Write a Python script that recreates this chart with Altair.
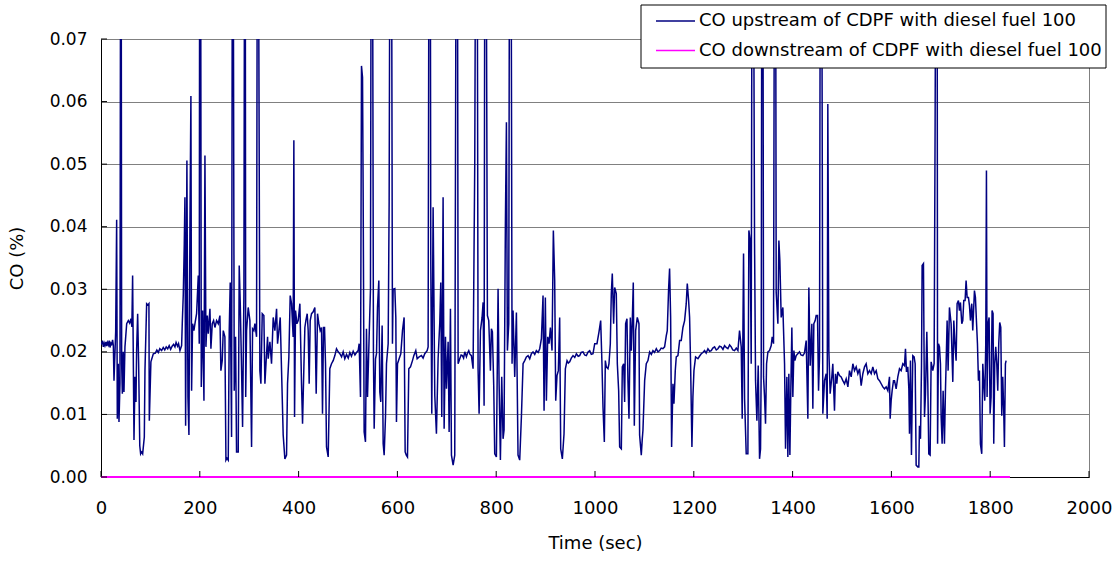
import altair as alt
import pandas as pd

# CO upstream of the CDPF, (time s, CO %) pairs, one list per stretch of the run
up_0_163 = [
    (0, 0.0212), (1.3, 0.0213), (3, 0.0218), (4.7, 0.0208), (6.5, 0.0214), (8, 0.0210),
    (10, 0.0216), (11.5, 0.0209), (13, 0.0215), (14.8, 0.0211), (16.5, 0.0218), (18.2, 0.0207),
    (20, 0.0214), (21.6, 0.0212), (23.5, 0.0219), (25, 0.0210), (26.3, 0.0154), (29.7, 0.0232),
    (31.7, 0.0411), (33, 0.0093), (35, 0.0181), (36.4, 0.0088), (38.4, 0.0150), (39.7, 0.095),
    (40.8, 0.095), (41.8, 0.0181), (43.2, 0.0133), (45, 0.0200), (46.5, 0.0136), (48.5, 0.0208),
    (52, 0.0245), (55.3, 0.0250), (58, 0.0246), (60.7, 0.0253), (62.5, 0.0240), (64, 0.0322),
    (66.8, 0.0059), (68.8, 0.0160), (70.8, 0.0120), (72.1, 0.0202), (74.2, 0.0261), (76.2, 0.0181),
    (78.5, 0.0050), (80.2, 0.0037), (82, 0.0040), (84.3, 0.0037), (87.7, 0.0064), (89, 0.0170),
    (92.4, 0.0277), (95, 0.0275), (97, 0.0277), (97.8, 0.0090), (101, 0.0184), (105.9, 0.0197),
    (110, 0.0198), (113, 0.0203), (116, 0.0199), (119, 0.0205), (122.7, 0.0202), (126, 0.0207),
    (129, 0.0203), (132, 0.0208), (135, 0.0205), (138, 0.0210), (141, 0.0204), (144, 0.0209),
    (147, 0.0212), (149.7, 0.0208), (152, 0.0215), (155, 0.0209), (157, 0.0213), (159.8, 0.0202),
    (163.2, 0.0210),
]
up_164_480 = [
    (164.5, 0.0245), (166.5, 0.0290), (168.6, 0.0373), (169.9, 0.0447), (171.3, 0.0082),
    (173.9, 0.0506), (176, 0.0128), (178, 0.0067), (180, 0.0394), (182, 0.0609), (183.4, 0.0138),
    (185.4, 0.0245), (188.1, 0.0234), (190.2, 0.0245), (193.5, 0.0261), (196.9, 0.0322),
    (198.9, 0.0213), (199.8, 0.095), (201.6, 0.095), (203, 0.0144), (205.7, 0.0266),
    (208.4, 0.0122), (210.4, 0.0514), (212.4, 0.0208), (215.1, 0.0258), (217.1, 0.0229),
    (220.5, 0.0269), (222.5, 0.0205), (225.2, 0.0245), (227.9, 0.0250), (230.6, 0.0239),
    (234, 0.0250), (237.4, 0.0245), (240.7, 0.0258), (242.7, 0.0170), (245.4, 0.0186),
    (247.5, 0.0234), (250.8, 0.0224), (252.9, 0.0027), (255, 0.0030), (257.6, 0.0027),
    (259.6, 0.0234), (261.6, 0.0311), (264.3, 0.0064), (266, 0.095), (267.5, 0.095),
    (269.7, 0.0138), (272.4, 0.0224), (274.4, 0.0040), (277.8, 0.0040), (279.8, 0.0338),
    (281.9, 0.0277), (284.6, 0.0170), (286.6, 0.0080), (289.3, 0.0293), (290.7, 0.095),
    (292, 0.095), (292.9, 0.0128), (294.7, 0.0234), (298, 0.0271), (301.4, 0.0250),
    (304.8, 0.0048), (306.8, 0.0237), (309.5, 0.0234), (311.5, 0.0245), (314.9, 0.0224),
    (316.5, 0.095), (318.5, 0.095), (321.6, 0.0170), (323.7, 0.0149), (326.4, 0.0261),
    (329.7, 0.0258), (331.8, 0.0149), (335.1, 0.0197), (337.2, 0.0224), (338.5, 0.0189),
    (341.9, 0.0216), (345.2, 0.0181), (348.6, 0.0255), (352, 0.0234), (355.4, 0.0269),
    (357.4, 0.0213), (360.1, 0.0234), (362.8, 0.0255), (365.5, 0.0170), (368.8, 0.0067),
    (372.2, 0.0029), (375.6, 0.0035), (377.6, 0.0149), (380.3, 0.0192), (383, 0.0290),
    (385.7, 0.0277), (389, 0.0224), (390.4, 0.0538), (391.8, 0.0096), (393.8, 0.0266),
    (396.5, 0.0245), (399.2, 0.0250), (402.6, 0.0277), (405.9, 0.0149), (408, 0.0085),
    (410.7, 0.0176), (412.7, 0.0239), (414.7, 0.0250), (417.4, 0.0261), (419.4, 0.0234),
    (421.4, 0.0149), (423.5, 0.0250), (426.2, 0.0261), (429.5, 0.0264), (432.9, 0.0271),
    (435.6, 0.0133), (438.3, 0.0261), (441, 0.0245), (443.7, 0.0234), (446.4, 0.0239),
    (448.4, 0.0101), (450.4, 0.0239), (452.5, 0.0239), (454.5, 0.0181), (456.5, 0.0048),
    (459.9, 0.0032), (463.2, 0.0173), (466.6, 0.0181), (470, 0.0186), (473.4, 0.0194),
    (476.7, 0.0205), (480.1, 0.0200),
]
up_483_1008 = [
    (483.5, 0.0197), (487, 0.0192), (490.2, 0.0200), (493.5, 0.0189), (497, 0.0196),
    (500.5, 0.0190), (503.7, 0.0199), (507, 0.0193), (510.5, 0.0201), (514, 0.0195),
    (517.2, 0.0199), (520.6, 0.0202), (522.6, 0.0213), (525.3, 0.0128), (527.3, 0.0657),
    (529.4, 0.0639), (530.7, 0.0450), (532.7, 0.0072), (535.4, 0.0056), (537.4, 0.0237),
    (539.5, 0.0128), (542.8, 0.0224), (545.5, 0.0300), (547, 0.095), (549.5, 0.095),
    (551.5, 0.0195), (553, 0.0077), (555.7, 0.0189), (557.7, 0.0197), (559.7, 0.0271),
    (562.4, 0.0314), (564.4, 0.0136), (566.4, 0.0120), (569.1, 0.0242), (571.2, 0.0053),
    (573.2, 0.0035), (575.9, 0.0096), (577.9, 0.0181), (581.3, 0.0213), (583.3, 0.0440),
    (585, 0.095), (588, 0.095), (590, 0.0213), (591.4, 0.0300), (594.8, 0.0301),
    (596.8, 0.0255), (598.1, 0.0088), (600.2, 0.0181), (603.5, 0.0189), (606.9, 0.0197),
    (610.3, 0.0234), (613.6, 0.0255), (615.7, 0.0040), (618, 0.0035), (620.4, 0.0032),
    (623.1, 0.0173), (626.5, 0.0176), (630.5, 0.0186), (633.2, 0.0194), (637.2, 0.0202),
    (640, 0.0189), (644, 0.0192), (648.7, 0.0194), (652, 0.0190), (655.4, 0.0197),
    (660.2, 0.0202), (662.2, 0.0208), (664, 0.095), (666.5, 0.095), (667.6, 0.0341),
    (669.6, 0.0101), (672.3, 0.0431), (675.7, 0.0130), (679, 0.0069), (682.4, 0.0189),
    (685.8, 0.0247), (687.8, 0.0311), (689.8, 0.0096), (692.5, 0.0447), (694.6, 0.0077),
    (697.3, 0.0224), (699.3, 0.0141), (702.7, 0.0216), (704.7, 0.0072), (707.4, 0.0269),
    (709.4, 0.0035), (712.8, 0.0019), (716.1, 0.0035), (719, 0.095), (721.5, 0.095),
    (722.9, 0.0181), (726.2, 0.0189), (729, 0.0195), (731.6, 0.0194), (734, 0.0190),
    (736.4, 0.0200), (739.7, 0.0192), (742, 0.0198), (744.5, 0.0202), (747, 0.0196),
    (749.8, 0.0194), (753.2, 0.0173), (756.6, 0.0503), (758.5, 0.095), (761.5, 0.095),
    (763.3, 0.0173), (765.4, 0.0101), (768.1, 0.0234), (771.4, 0.0255), (773.5, 0.0279),
    (775.5, 0.0114), (777, 0.095), (779.5, 0.095), (782.2, 0.0258), (784.9, 0.0250),
    (788.3, 0.0170), (790.3, 0.0237), (792.3, 0.0232), (795, 0.0146), (797, 0.0037),
    (800.4, 0.0032), (803.8, 0.0301), (805.8, 0.0154), (808.5, 0.0027), (811.2, 0.0160),
    (813.9, 0.0061), (815.9, 0.0075), (818.6, 0.0404), (820.7, 0.0567), (822.7, 0.0202),
    (825.4, 0.0245), (827, 0.095), (830, 0.095), (832.1, 0.0181), (834.1, 0.0266),
    (837.5, 0.0160), (840.9, 0.0263), (844.2, 0.0035), (847.6, 0.0027), (851, 0.0096),
    (854.4, 0.0181), (857.7, 0.0186), (861.1, 0.0192), (864.5, 0.0194), (867.9, 0.0189),
    (871.2, 0.0197), (874.6, 0.0200), (878, 0.0196), (881.3, 0.0202), (885, 0.0199),
    (888.1, 0.0205), (891.5, 0.0221), (894.8, 0.0290), (896.9, 0.0106), (899.5, 0.0287),
    (901.6, 0.0122), (904.3, 0.0224), (907, 0.0213), (909.7, 0.0239), (913, 0.0202),
    (915.7, 0.0394), (918.4, 0.0314), (920.5, 0.0122), (923.1, 0.0162), (925.8, 0.0170),
    (928.5, 0.0255), (930.6, 0.0045), (933.9, 0.0029), (937.3, 0.0069), (940, 0.0173),
    (943.4, 0.0186), (946, 0.0182), (948.8, 0.0184), (952, 0.0190), (955.5, 0.0194),
    (959, 0.0191), (962.3, 0.0197), (966, 0.0193), (969, 0.0194), (972, 0.0199),
    (975.8, 0.0200), (979, 0.0195), (982.5, 0.0194), (986, 0.0200), (989.2, 0.0202),
    (992.5, 0.0196), (996, 0.0197), (999.4, 0.0213), (1004, 0.0213), (1008.1, 0.0232),
]
up_1011_1498 = [
    (1011.5, 0.0250), (1014.1, 0.0181), (1016.2, 0.0112), (1018.9, 0.0056), (1020.9, 0.0186),
    (1022.9, 0.0176), (1026.3, 0.0173), (1028.3, 0.0181), (1031, 0.0213), (1033, 0.0293),
    (1035, 0.0325), (1037.7, 0.0245), (1039.8, 0.0303), (1043.1, 0.0293), (1045.2, 0.0181),
    (1047.9, 0.0138), (1049.9, 0.0048), (1053.3, 0.0045), (1055.3, 0.0176), (1058, 0.0181),
    (1060, 0.0120), (1062, 0.0245), (1064.7, 0.0253), (1066.7, 0.0154), (1068.8, 0.0093),
    (1071.5, 0.0255), (1073.5, 0.0202), (1075.5, 0.0250), (1077.5, 0.0311), (1079.6, 0.0082),
    (1082.3, 0.0234), (1085.6, 0.0255), (1089, 0.0245), (1090.3, 0.0067), (1093.7, 0.0035),
    (1095.7, 0.0061), (1097.1, 0.0075), (1100.5, 0.0154), (1103.8, 0.0181), (1107.2, 0.0186),
    (1110.6, 0.0200), (1114, 0.0196), (1117.3, 0.0202), (1120.5, 0.0199), (1124.1, 0.0205),
    (1127.5, 0.0200), (1130.8, 0.0202), (1134, 0.0206), (1137.5, 0.0205), (1140.9, 0.0208),
    (1144.3, 0.0226), (1146.3, 0.0234), (1149, 0.0301), (1151, 0.0333), (1153.1, 0.0255),
    (1155.1, 0.0048), (1157.8, 0.0149), (1159.8, 0.0117), (1162.5, 0.0170), (1164.5, 0.0192),
    (1167.9, 0.0194), (1171.3, 0.0218), (1174.6, 0.0218), (1178, 0.0239), (1181.4, 0.0250),
    (1184.7, 0.0277), (1186.8, 0.0309), (1189.5, 0.0282), (1191.5, 0.0255), (1193.5, 0.0181),
    (1196.2, 0.0048), (1198.2, 0.0128), (1200.3, 0.0170), (1203.6, 0.0192), (1208.4, 0.0189),
    (1211.5, 0.0193), (1215.1, 0.0197), (1218.5, 0.0199), (1221.8, 0.0202), (1225, 0.0198),
    (1228.6, 0.0205), (1232, 0.0201), (1235.3, 0.0202), (1238.5, 0.0206), (1242.1, 0.0208),
    (1245.5, 0.0203), (1248.8, 0.0205), (1252, 0.0209), (1255.5, 0.0208), (1259, 0.0204),
    (1262.3, 0.0210), (1265.5, 0.0207), (1269, 0.0205), (1272.5, 0.0211), (1275.8, 0.0208),
    (1279, 0.0203), (1282.5, 0.0202), (1286, 0.0206), (1289.3, 0.0202), (1292.6, 0.0234),
    (1296, 0.0208), (1298, 0.0093), (1300.7, 0.0357), (1302.8, 0.0125), (1306.1, 0.0037),
    (1309.5, 0.0037), (1311.5, 0.0394), (1314.2, 0.0378), (1316.2, 0.0181), (1318, 0.095),
    (1320.5, 0.095), (1323, 0.0373), (1325, 0.0154), (1327.7, 0.0090), (1330.4, 0.0178),
    (1333.1, 0.0029), (1335.1, 0.0045), (1336.5, 0.0181), (1337.8, 0.095), (1339.8, 0.095),
    (1341.2, 0.0160), (1343.2, 0.0128), (1345.2, 0.0085), (1347.3, 0.0181), (1350, 0.0200),
    (1353.3, 0.0202), (1356.7, 0.0210), (1358.7, 0.0224), (1361.4, 0.0213), (1363.4, 0.095),
    (1365.5, 0.095), (1366.8, 0.0295), (1370.2, 0.0245), (1372.2, 0.0378), (1374.2, 0.0346),
    (1376.9, 0.0255), (1380.3, 0.0271), (1383.7, 0.0181), (1385.7, 0.0045), (1388.4, 0.0160),
    (1390.4, 0.0032), (1392.4, 0.0165), (1394.5, 0.0035), (1396.5, 0.0144), (1398.5, 0.0239),
    (1400.5, 0.0128), (1402.6, 0.0202), (1404.6, 0.0186), (1407.3, 0.0194), (1410.5, 0.0197),
    (1414, 0.0200), (1417, 0.0195), (1420.8, 0.0194), (1424, 0.0198), (1427.5, 0.0218),
    (1430.9, 0.0093), (1432.9, 0.0303), (1435.6, 0.0178), (1439, 0.0245), (1441, 0.0109),
    (1443, 0.0245), (1445.7, 0.0250), (1447.7, 0.0258), (1450.4, 0.0258), (1452.5, 0.0138),
    (1454.5, 0.0192), (1456.2, 0.095), (1458.8, 0.095), (1461.2, 0.0101), (1464.6, 0.0154),
    (1468, 0.0165), (1470, 0.0093), (1471.3, 0.0596), (1473.4, 0.0202), (1476, 0.0133),
    (1479.4, 0.0160), (1481.4, 0.0181), (1484.8, 0.0106), (1486.8, 0.0165), (1489.5, 0.0149),
    (1491.5, 0.0168), (1494.9, 0.0162), (1498.3, 0.0160),
]
up_1501_1832 = [
    (1501.7, 0.0154), (1505.1, 0.0149), (1508.5, 0.0157), (1511.9, 0.0144), (1515.2, 0.0170),
    (1518.6, 0.0160), (1522, 0.0181), (1525.3, 0.0170), (1528.7, 0.0176), (1532.1, 0.0165),
    (1535.5, 0.0173), (1538.8, 0.0146), (1542.2, 0.0165), (1545.6, 0.0176), (1548.9, 0.0181),
    (1552.3, 0.0165), (1555.7, 0.0170), (1559.1, 0.0165), (1562.4, 0.0176), (1565.8, 0.0165),
    (1569.2, 0.0170), (1572.5, 0.0157), (1575.9, 0.0154), (1579.3, 0.0149), (1582.7, 0.0144),
    (1586, 0.0141), (1589.4, 0.0144), (1592.8, 0.0138), (1596.1, 0.0160), (1597.5, 0.0093),
    (1599.5, 0.0122), (1601.5, 0.0138), (1604.2, 0.0154), (1606.3, 0.0154), (1609.6, 0.0141),
    (1613, 0.0160), (1616.4, 0.0173), (1619.7, 0.0170), (1623.1, 0.0181), (1626.5, 0.0178),
    (1628.5, 0.0205), (1630.5, 0.0168), (1633.2, 0.0176), (1635.3, 0.0141), (1636.6, 0.0069),
    (1638.6, 0.0186), (1640.6, 0.0035), (1643.3, 0.0194), (1646, 0.0192), (1648.1, 0.0181),
    (1650.1, 0.0019), (1653.5, 0.0016), (1655.5, 0.0016), (1656.8, 0.0082), (1658.9, 0.0061),
    (1660.9, 0.0176), (1662.2, 0.0338), (1664.9, 0.0341), (1667, 0.0096), (1669, 0.0133),
    (1671.7, 0.0232), (1673.7, 0.0149), (1675.7, 0.0037), (1678.4, 0.0035), (1680.4, 0.0184),
    (1683.8, 0.0170), (1686.5, 0.0181), (1688.5, 0.0567), (1690, 0.095), (1692.5, 0.095),
    (1693.5, 0.0053), (1695.3, 0.0213), (1697.3, 0.0208), (1699.3, 0.0181), (1700.7, 0.0096),
    (1702.7, 0.0053), (1704.7, 0.0138), (1707.4, 0.0053), (1709.4, 0.0138), (1710.8, 0.0181),
    (1712.8, 0.0250), (1714.8, 0.0170), (1717.5, 0.0271), (1720.9, 0.0245), (1724.3, 0.0152),
    (1726.3, 0.0250), (1729, 0.0208), (1731, 0.0186), (1733, 0.0277), (1735.7, 0.0282),
    (1737.7, 0.0266), (1739.8, 0.0279), (1742.5, 0.0245), (1744.5, 0.0250), (1746.5, 0.0282),
    (1749.2, 0.0282), (1751.2, 0.0314), (1753.3, 0.0287), (1756, 0.0287), (1758, 0.0274),
    (1760, 0.0250), (1762.7, 0.0277), (1764.7, 0.0234), (1768.1, 0.0298), (1770.1, 0.0287),
    (1772.1, 0.0250), (1774.2, 0.0213), (1776.2, 0.0154), (1778.2, 0.0170), (1780.2, 0.0053),
    (1782.9, 0.0037), (1785, 0.0181), (1787, 0.0149), (1789, 0.0122), (1791, 0.0213),
    (1792.4, 0.0490), (1793.7, 0.0128), (1795.7, 0.0245), (1797.8, 0.0255), (1799.8, 0.0101),
    (1801.8, 0.0128), (1803.8, 0.0266), (1805.8, 0.0261), (1807.2, 0.0053), (1809.2, 0.0181),
    (1811.2, 0.0208), (1813.3, 0.0181), (1815.3, 0.0138), (1817.3, 0.0213), (1819.3, 0.0247),
    (1821.4, 0.0239), (1823.4, 0.0098), (1825.4, 0.0160), (1827.4, 0.0106), (1828.8, 0.0048),
    (1830.8, 0.0181), (1832.2, 0.0186),
]

# CO downstream of the CDPF stays at zero for the whole run
down_time = [0, 1840]
down_co = [0.0, 0.0]

series_names = [
    "CO upstream of CDPF with diesel fuel 100",
    "CO downstream of CDPF with diesel fuel 100",
]
series_colors = ["#000080", "#FF00FF"]

x_ticks = [0, 200, 400, 600, 800, 1000, 1200, 1400, 1600, 1800, 2000]
y_ticks = [0.00, 0.01, 0.02, 0.03, 0.04, 0.05, 0.06, 0.07]

FONT = "DejaVu Sans"
W, H = 988, 438

up_pairs = up_0_163 + up_164_480 + up_483_1008 + up_1011_1498 + up_1501_1832
up_df = pd.DataFrame(up_pairs, columns=["t", "co"])
down_df = pd.DataFrame({"t": down_time, "co": down_co})

x_scale = alt.Scale(domain=[0, 2000], nice=False, zero=False)
y_scale = alt.Scale(domain=[0, 0.07], nice=False)

x_axis = alt.Axis(
    values=x_ticks, format="d", grid=False, ticks=False, tickSize=0, labelPadding=22,
    labelFontSize=18, labelFont=FONT, labelColor="black", domainColor="black",
    title="Time (sec)", titleFont=FONT, titleFontSize=18, titleFontWeight="normal",
    titleColor="black", titleY=66, titleBaseline="middle", labelFlush=False,
)
y_axis = alt.Axis(
    values=y_ticks, format=".2f", grid=True, gridColor="#808080", gridWidth=1,
    ticks=False, tickSize=0, labelPadding=14, labelFontSize=17, labelFont=FONT,
    labelColor="black", domainColor="black", title="CO (%)", titleFont=FONT,
    titleFontSize=18, titleFontWeight="normal", titleColor="black",
    titleX=-84, titleY=H / 2, titleAngle=270, titleBaseline="middle", labelFlush=False,
)

upstream = alt.Chart(up_df).mark_line(
    color=series_colors[0], strokeWidth=1.5, clip=True
).encode(
    x=alt.X("t:Q", scale=x_scale, axis=x_axis),
    y=alt.Y("co:Q", scale=y_scale, axis=y_axis),
)

downstream = alt.Chart(down_df).mark_line(
    color=series_colors[1], strokeWidth=2
).encode(x="t:Q", y="co:Q")

# inward-pointing tick marks on both axes
x_tick_marks = alt.Chart(pd.DataFrame({"t": x_ticks})).mark_rule(
    color="black", strokeWidth=1
).encode(x="t:Q", y=alt.value(H - 6), y2=alt.value(H))
y_tick_marks = alt.Chart(pd.DataFrame({"co": y_ticks})).mark_rule(
    color="black", strokeWidth=1
).encode(y="co:Q", x=alt.value(0), x2=alt.value(6))

# legend box drawn over the plot, top right
legend_df = pd.DataFrame({"series": series_names, "color": series_colors})
legend_box = alt.Chart(legend_df.head(1)).mark_rect(
    fill="white", stroke="black", strokeWidth=1
).encode(x=alt.value(540), x2=alt.value(1005), y=alt.value(-34), y2=alt.value(29))

legend_layers = []
for i, (name, color) in enumerate(zip(series_names, series_colors)):
    row_y = -18 + i * 29.5
    entry = legend_df.iloc[[i]]
    legend_layers.append(
        alt.Chart(entry).mark_rule(color=color, strokeWidth=1.5).encode(
            x=alt.value(555), x2=alt.value(594), y=alt.value(row_y)
        )
    )
    legend_layers.append(
        alt.Chart(entry).mark_text(
            align="left", baseline="middle", font=FONT, fontSize=18, color="black"
        ).encode(x=alt.value(598), y=alt.value(row_y), text="series:N")
    )

chart = alt.layer(
    upstream, downstream, x_tick_marks, y_tick_marks, legend_box, *legend_layers
).properties(
    width=W, height=H,
    autosize=alt.AutoSizeParams(type="none"),
    padding={"left": 101, "top": 39, "right": 31, "bottom": 86},
    background="white",
).configure_view(stroke="#808080", strokeWidth=1)

chart.save("out.html", embed_options={"renderer": "svg", "actions": False})
